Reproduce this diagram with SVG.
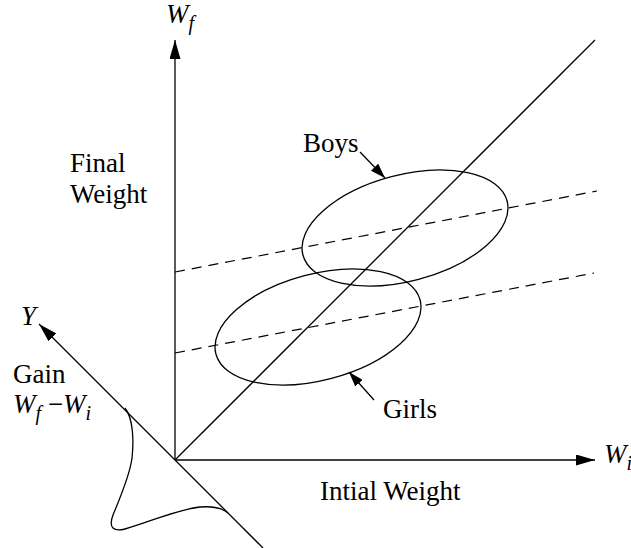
<svg xmlns="http://www.w3.org/2000/svg" width="631" height="548" viewBox="0 0 631 548">
<style>
.ln{fill:none;stroke:#000;stroke-width:1.3}
.dash{fill:none;stroke:#000;stroke-width:1.2;stroke-dasharray:10,7}
.t{font-family:'Liberation Serif','Times New Roman',Times,serif;font-size:27px;fill:#000}
.it{font-style:italic}
.sub{font-size:20px}
</style>
<defs>
<marker id="ah" viewBox="0 0 19 11" refX="19" refY="5.5" markerWidth="19" markerHeight="11" orient="auto" markerUnits="userSpaceOnUse"><path d="M0,0 L19,5.5 L0,11 z" fill="#000"/></marker>
<marker id="ahs" viewBox="0 0 15 10" refX="15" refY="5" markerWidth="15" markerHeight="10" orient="auto" markerUnits="userSpaceOnUse"><path d="M0,0 L15,5 L0,10 z" fill="#000"/></marker>
</defs>
<rect width="631" height="548" fill="#fff"/>
<g id="connectors">
<line class="ln" x1="175" y1="460" x2="175" y2="40" marker-end="url(#ah)"/>
<line class="ln" x1="175" y1="460" x2="595" y2="460" marker-end="url(#ah)"/>
<line class="ln" x1="263" y1="548" x2="39" y2="324" marker-end="url(#ah)"/>
<line class="ln" x1="175" y1="460" x2="595" y2="40"/>
<line class="dash" x1="175" y1="272" x2="597" y2="191"/>
<line class="dash" x1="175" y1="353" x2="594" y2="273"/>
<line class="ln" x1="360" y1="152" x2="385" y2="178" marker-end="url(#ahs)"/>
<line class="ln" x1="374" y1="400" x2="349" y2="372" marker-end="url(#ahs)"/>
<path class="ln" d="M125,408 C133,418 134,440 132,458 C130,475 120,498 113,515 C108,528 114,532 125,529 C150,522 175,510 200,507 C212,506 222,508 228,513"/>
</g>
<g id="boys">
<ellipse class="ln" cx="405" cy="228" rx="105.6" ry="53.1" transform="rotate(-14.8 405 228)"/>
<text class="t" x="303" y="152" font-family="Liberation Serif, serif">Boys</text>
</g>
<g id="girls">
<ellipse class="ln" cx="318" cy="327" rx="105.6" ry="53.1" transform="rotate(-14.8 318 327)"/>
<text class="t" x="383" y="418" font-family="Liberation Serif, serif">Girls</text>
</g>
<g id="labels" class="t" font-family="Liberation Serif, serif">
<text class="t it" x="166" y="23">W<tspan class="sub" dy="7">f</tspan></text>
<text class="t it" x="604" y="463">W<tspan class="sub" dy="7">i</tspan></text>
<text class="t it" x="21" y="325">Y</text>
<text class="t" x="70" y="172">Final</text>
<text class="t" x="70" y="203">Weight</text>
<text class="t" x="13" y="383">Gain</text>
<text class="t" x="13" y="413"><tspan class="it">W</tspan><tspan class="it sub" dy="7">f</tspan><tspan x="48" dy="-7">−</tspan><tspan class="it" x="63">W</tspan><tspan class="it sub" dy="7">i</tspan></text>
<text class="t" x="320" y="500">Intial Weight</text>
</g>
</svg>
